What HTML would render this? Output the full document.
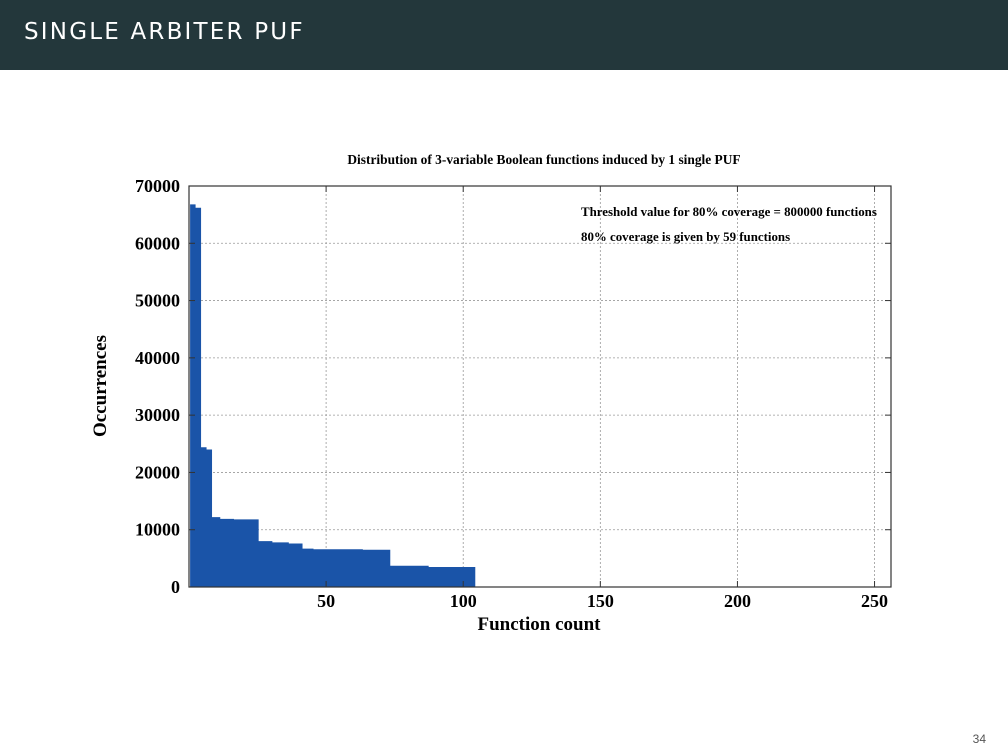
<!DOCTYPE html>
<html><head><meta charset="utf-8">
<style>
body{margin:0;width:1008px;height:756px;background:#fff;overflow:hidden;position:relative;font-family:"Liberation Serif",serif}
#hdr{position:absolute;left:0;top:0;width:1008px;height:70px;background:#23373b}
#ttl{position:absolute;left:24px;top:19px;color:#fff;font-family:"DejaVu Sans","Liberation Sans",sans-serif;font-size:23px;letter-spacing:2.2px}
#pg{position:absolute;right:22px;top:732px;font-family:"Liberation Sans",sans-serif;font-size:12px;color:#555}
svg{position:absolute;left:0;top:0}
</style></head><body>
<div id="hdr"><div id="ttl">SINGLE ARBITER PUF</div></div>
<div id="pg">34</div>
<svg id="chart" width="1008" height="756"></svg>
<script>
const xTicks=[50,100,150,200,250];
const yTicks=[0,10000,20000,30000,40000,50000,60000,70000];
const counts=[66800,66800,66200,66200,24400,24400,24000,24000,12200,12200,12200,
11900,11900,11900,11900,11900,
11800,11800,11800,11800,11800,11800,11800,11800,11800,
8000,8000,8000,8000,8000,
7800,7800,7800,7800,7800,7800,
7600,7600,7600,7600,7600,
6700,6700,6700,6700,
6600,6600,6600,6600,6600,6600,6600,6600,6600,6600,6600,6600,6600,6600,6600,6600,6600,6600,
6500,6500,6500,6500,6500,6500,6500,6500,6500,6500,
3700,3700,3700,3700,3700,3700,3700,3700,3700,3700,3700,3700,3700,3700,
3500,3500,3500,3500,3500,3500,3500,3500,3500,3500,3500,3500,3500,3500,3500,3500,3500];
const L=189,R=891,T=186,B=587,XMAX=256,YMAX=70000;
const xs=v=>L+(v)*(R-L)/XMAX;
const ys=v=>B-v*(B-T)/YMAX;
const svg=document.getElementById('chart');
const NS='http://www.w3.org/2000/svg';
function mk(tag,at){const e=document.createElementNS(NS,tag);for(const k in at)e.setAttribute(k,at[k]);svg.appendChild(e);return e;}
xTicks.forEach(t=>{const e=mk('line',{x1:xs(t),x2:xs(t),y1:T,y2:B,stroke:'#999','stroke-dasharray':'2,2','stroke-width':0.8});

});
yTicks.forEach(t=>{if(t===0)return;const e=mk('line',{x1:L,x2:R,y1:ys(t),y2:ys(t),stroke:'#999','stroke-dasharray':'2,2','stroke-width':0.8});

});
let d='M'+xs(0.4)+','+B;
counts.forEach((v,i)=>{d+=' L'+xs(i+0.4)+','+ys(v)+' L'+xs(i+1.4)+','+ys(v);});
d+=' L'+xs(counts.length+0.4)+','+B+' Z';
const area=mk('path',{d:d,fill:'#1a54a8'});


const fr=mk('rect',{x:L,y:T,width:R-L,height:B-T,fill:'none',stroke:'#333','stroke-width':1.2});


xTicks.forEach(t=>{mk('line',{x1:xs(t),x2:xs(t),y1:B,y2:B-6,stroke:'#333'});mk('line',{x1:xs(t),x2:xs(t),y1:T,y2:T+6,stroke:'#333'});
const tx=mk('text',{x:xs(t),y:607,'text-anchor':'middle','font-size':18,'font-weight':'bold','font-family':'Liberation Serif,serif'});tx.textContent=t;

});
yTicks.forEach(t=>{mk('line',{x1:L,x2:L+6,y1:ys(t),y2:ys(t),stroke:'#333'});mk('line',{x1:R,x2:R-6,y1:ys(t),y2:ys(t),stroke:'#333'});
const tx=mk('text',{x:180,y:ys(t)+6,'text-anchor':'end','font-size':18,'font-weight':'bold','font-family':'Liberation Serif,serif'});tx.textContent=t;

});
function txt(s,at,name){const e=mk('text',Object.assign({'font-family':'Liberation Serif,serif','font-weight':'bold'},at));e.textContent=s;

return e;}
txt('Distribution of 3-variable Boolean functions induced by 1 single PUF',{x:544,y:164,'text-anchor':'middle','font-size':13.4},'chart-title');
txt('Threshold value for 80% coverage = 800000 functions',{x:581,y:216,'font-size':12.9},'annotation-threshold');
txt('80% coverage is given by 59 functions',{x:581,y:241,'font-size':12.9},'annotation-coverage');
txt('Function count',{x:539,y:630,'text-anchor':'middle','font-size':19},'x-axis-title');
txt('Occurrences',{x:0,y:0,'text-anchor':'middle','font-size':19,transform:'translate(106,386) rotate(-90)'},'y-axis-title');
</script>
</body></html>
